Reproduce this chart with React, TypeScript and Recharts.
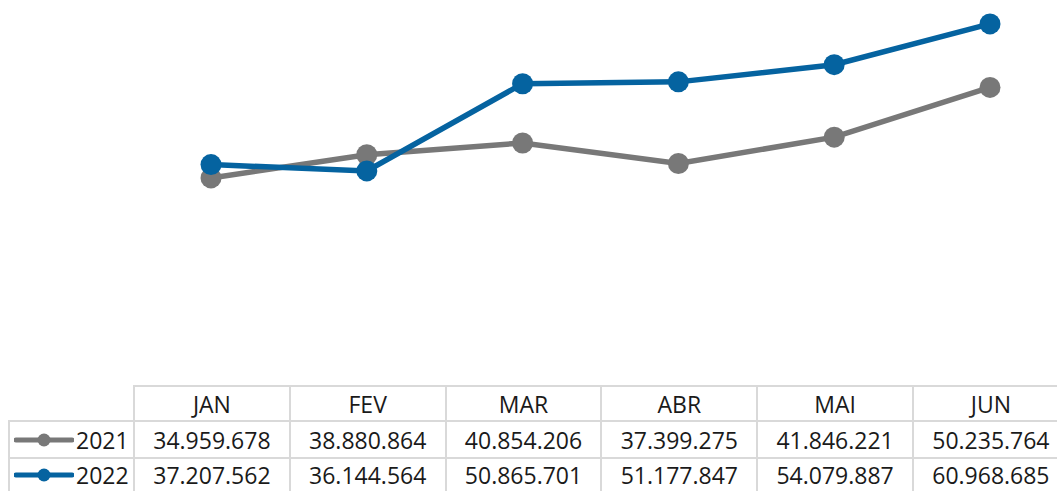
import { Line, LineChart, XAxis, YAxis } from "recharts";

const months = ["JAN", "FEV", "MAR", "ABR", "MAI", "JUN"];
const values2021 = [34959678, 38880864, 40854206, 37399275, 41846221, 50235764];
const values2022 = [37207562, 36144564, 50865701, 51177847, 54079887, 60968685];

const series = [
  { key: "y2021", label: "2021", color: "#787878", values: values2021 },
  { key: "y2022", label: "2022", color: "#0563a0", values: values2022 },
];

const data = months.map((m, i) => ({
  month: m,
  y2021: values2021[i],
  y2022: values2022[i],
}));

const fmt = (v: number) => v.toLocaleString("de-DE");

const FONT = "'Open Sans', sans-serif";
const BORDER = "2px solid #d9d9d9";
const LABEL_W = 125;
const COL_W = 155.8;

const cell = {
  borderRight: BORDER,
  borderBottom: BORDER,
  width: COL_W,
  minWidth: COL_W,
  textAlign: "center" as const,
  verticalAlign: "middle" as const,
  padding: 0,
  boxSizing: "border-box" as const,
  lineHeight: "24px",
};

const Marker = ({ color }: { color: string }) => (
  <svg width={60} height={14} style={{ display: "block" }}>
    <line x1={2} y1={7} x2={58} y2={7} stroke={color} strokeWidth={5} strokeLinecap="round" />
    <circle cx={30} cy={7} r={6.5} fill={color} />
  </svg>
);

const App = () => {
  return (
    <div
      style={{
        position: "absolute",
        left: 0,
        top: 0,
        width: 1057,
        height: 491,
        overflow: "hidden",
        background: "#fff",
        fontFamily: FONT,
      }}
    >
      <LineChart
        width={1068}
        height={491}
        data={data}
        margin={{ top: 0, right: 0, bottom: 106, left: 133 }}
      >
        <XAxis dataKey="month" hide padding={{ left: 78, right: 78 }} />
        <YAxis hide width={0} domain={[0, 65000000]} />
        {series.map((s) => (
          <Line
            key={s.key}
            dataKey={s.key}
            stroke={s.color}
            strokeWidth={5.5}
            dot={{ r: 10.5, fill: s.color, stroke: s.color, strokeWidth: 0 }}
            isAnimationActive={false}
          />
        ))}
      </LineChart>

      <table
        style={{
          position: "absolute",
          left: 8,
          top: 385,
          borderCollapse: "collapse",
          tableLayout: "fixed",
          fontSize: 23,
          color: "#1a1a1a",
          fontFamily: FONT,
        }}
      >
        <tbody>
          <tr style={{ height: 35 }}>
            <td style={{ ...cell, width: LABEL_W, minWidth: LABEL_W, borderTop: "none" }} />
            {months.map((m) => (
              <td key={m} style={{ ...cell, borderTop: BORDER }}>
                {m}
              </td>
            ))}
          </tr>
          {series.map((s, si) => {
            const last = si === series.length - 1;
            const rowCell = last ? { ...cell, borderBottom: "none" } : cell;
            return (
              <tr key={s.key} style={{ height: last ? 33 : 37 }}>
                <td style={{ ...rowCell, width: LABEL_W, minWidth: LABEL_W, borderLeft: BORDER }}>
                  <div style={{ display: "flex", alignItems: "center", paddingLeft: 4 }}>
                    <Marker color={s.color} />
                    <span style={{ marginLeft: 2 }}>{s.label}</span>
                  </div>
                </td>
                {s.values.map((v, i) => (
                  <td key={i} style={rowCell}>
                    {fmt(v)}
                  </td>
                ))}
              </tr>
            );
          })}
        </tbody>
      </table>
    </div>
  );
};

export default App;
